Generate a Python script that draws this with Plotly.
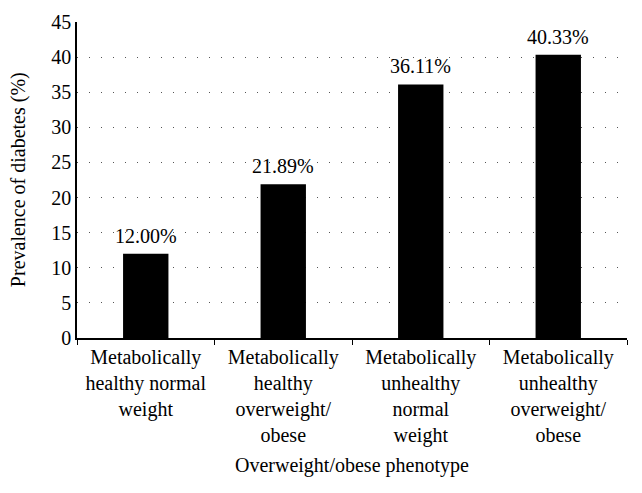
import plotly.graph_objects as go

categories = [
    "Metabolically<br>healthy normal<br>weight",
    "Metabolically<br>healthy<br>overweight/<br>obese",
    "Metabolically<br>unhealthy<br>normal<br>weight",
    "Metabolically<br>unhealthy<br>overweight/<br>obese",
]
prevalence = [12.00, 21.89, 36.11, 40.33]
bar_labels = ["12.00%", "21.89%", "36.11%", "40.33%"]
y_ticks = [0, 5, 10, 15, 20, 25, 30, 35, 40, 45]
x_title = "Overweight/obese phenotype"
y_title = "Prevalence of diabetes (%)"

FONT = "Liberation Serif"
FS = 20

fig = go.Figure(
    go.Bar(
        x=categories,
        y=prevalence,
        marker=dict(color="black", line=dict(width=0)),
        width=0.33,
    )
)

annotations = [
    dict(text=lbl, x=cat, y=val, xref="x", yref="y",
         xanchor="center", yanchor="bottom", yshift=5, showarrow=False,
         font=dict(family=FONT, size=FS, color="black"))
    for cat, val, lbl in zip(categories, prevalence, bar_labels)
]
annotations += [
    dict(text=x_title, xref="paper", yref="paper", x=0.5, y=-0.402,
         xanchor="center", yanchor="middle", showarrow=False,
         font=dict(family=FONT, size=FS)),
    dict(text=y_title, xref="paper", yref="paper", x=-0.107, y=0.5,
         xanchor="center", yanchor="middle", textangle=-90, showarrow=False,
         font=dict(family=FONT, size=FS)),
]

fig.update_layout(
    width=626,
    height=477,
    margin=dict(l=69, r=7, t=14, b=147, autoexpand=False),
    plot_bgcolor="white",
    paper_bgcolor="white",
    font=dict(family=FONT, size=FS, color="black"),
    showlegend=False,
    annotations=annotations,
)

fig.update_xaxes(
    automargin=False,
    showline=True,
    linecolor="black",
    linewidth=1.5,
    ticks="outside",
    tickson="boundaries",
    ticklen=5,
    tickcolor="black",
    tickfont=dict(family=FONT, size=FS),
    showgrid=False,
)

fig.update_yaxes(
    automargin=False,
    range=[0, 45],
    tickvals=y_ticks,
    showline=True,
    linecolor="black",
    linewidth=1.5,
    ticks="",
    tickfont=dict(family=FONT, size=FS),
    showgrid=True,
    gridcolor="#555555",
    gridwidth=1,
    griddash="1px,11px",
    zeroline=False,
)

fig.write_html("out.html")
